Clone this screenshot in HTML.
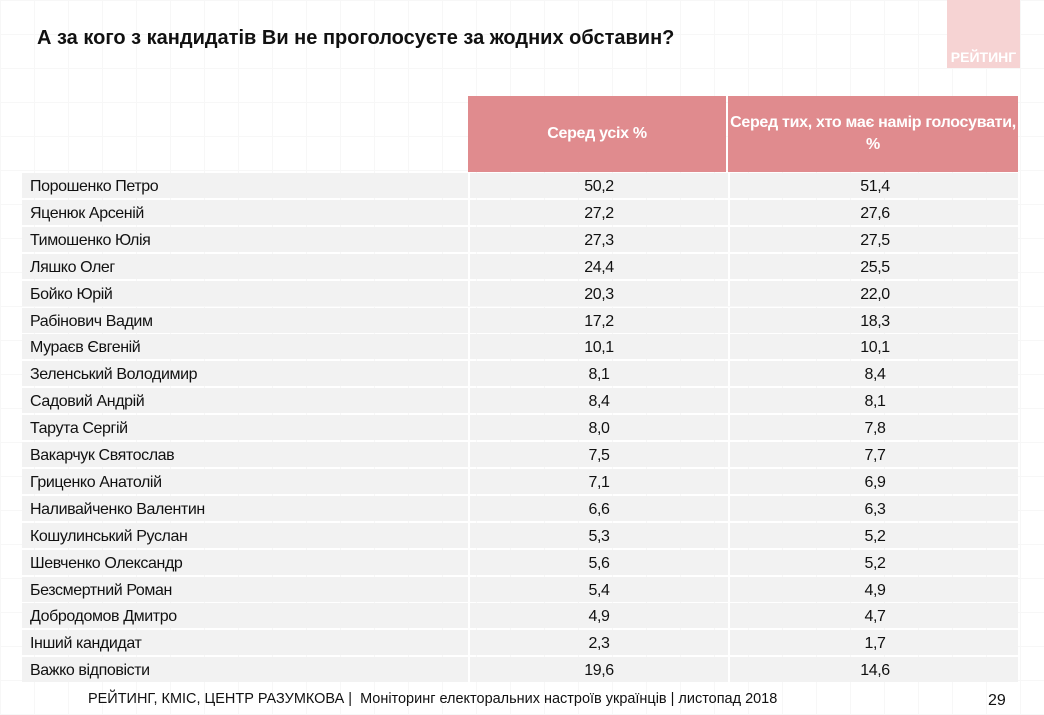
<!DOCTYPE html>
<html><head><meta charset="utf-8">
<style>
body{margin:0;width:1044px;height:715px;position:relative;background:#fff;font-family:"Liberation Sans",Arial,sans-serif;overflow:hidden;
background-image:linear-gradient(#f7f7f7 1px,transparent 1px),linear-gradient(90deg,#f7f7f7 1px,transparent 1px);background-size:34px 34px;}
#title{position:absolute;left:37px;top:27px;font-size:20px;font-weight:bold;color:#111;}
#badge{position:absolute;left:947px;top:0;width:73px;height:68px;background:#f6d3d3;}
#badge span{position:absolute;left:0;right:0;bottom:3px;text-align:center;color:#fff;font-weight:bold;font-size:14px;}
#hdr2,#hdr3{position:absolute;top:96px;height:76px;background:#e08b8e;color:#fff;font-weight:bold;font-size:16px;display:flex;align-items:center;justify-content:center;text-align:center;line-height:22px;letter-spacing:-0.3px}
#hdr2{left:468px;width:258px}
#hdr3{left:728px;width:290px}
.row{position:absolute;left:22px;width:996px;height:25px;background:#f2f2f2;font-size:16px;color:#111;letter-spacing:-0.4px}
.row div{position:absolute;top:0;line-height:27px}
.n{left:8px}
.v1{left:446px;width:258px;text-align:center;border-left:2px solid #fff;height:25px}
.v2{left:706px;width:290px;text-align:center;border-left:2px solid #fff;height:25px}
#footer{position:absolute;left:88px;top:690px;font-size:15px;color:#111;transform:scaleX(0.965);transform-origin:left;white-space:nowrap}
#page{position:absolute;left:988px;top:692px;font-size:16px;color:#111}
</style></head><body>
<div id="title">А за кого з кандидатів Ви не проголосуєте за жодних обставин?</div>
<div id="badge"><span>РЕЙТИНГ</span></div>
<div id="hdr2">Серед усіх %</div>
<div id="hdr3">Серед тих, хто має намір голосувати,<br>%</div>
<div id="table"></div>
<div id="footer">РЕЙТИНГ, КМІС, ЦЕНТР РАЗУМКОВА |&nbsp; Моніторинг електоральних настроїв українців | листопад 2018</div>
<div id="page">29</div>
<script>
const candidates=["Порошенко Петро","Яценюк Арсеній","Тимошенко Юлія","Ляшко Олег","Бойко Юрій","Рабінович Вадим","Мураєв Євгеній","Зеленський Володимир","Садовий Андрій","Тарута Сергій","Вакарчук Святослав","Гриценко Анатолій","Наливайченко Валентин","Кошулинський Руслан","Шевченко Олександр","Безсмертний Роман","Добродомов Дмитро","Інший кандидат","Важко відповісти"];
const allPct=[50.2,27.2,27.3,24.4,20.3,17.2,10.1,8.1,8.4,8.0,7.5,7.1,6.6,5.3,5.6,5.4,4.9,2.3,19.6];
const voterPct=[51.4,27.6,27.5,25.5,22.0,18.3,10.1,8.4,8.1,7.8,7.7,6.9,6.3,5.2,5.2,4.9,4.7,1.7,14.6];
const t=document.getElementById('table');
const fmt=v=>v.toFixed(1).replace('.',',');
candidates.forEach((c,i)=>{
  const r=document.createElement('div');r.className='row';r.style.top=(173+i*26.9)+'px';
  
  
  const a=document.createElement('div');a.className='n';a.textContent=c;
  
  
  const b=document.createElement('div');b.className='v1';b.textContent=fmt(allPct[i]);
  
  
  const d=document.createElement('div');d.className='v2';d.textContent=fmt(voterPct[i]);
  
  
  r.append(a,b,d);t.appendChild(r);
});
</script>
</body></html>
